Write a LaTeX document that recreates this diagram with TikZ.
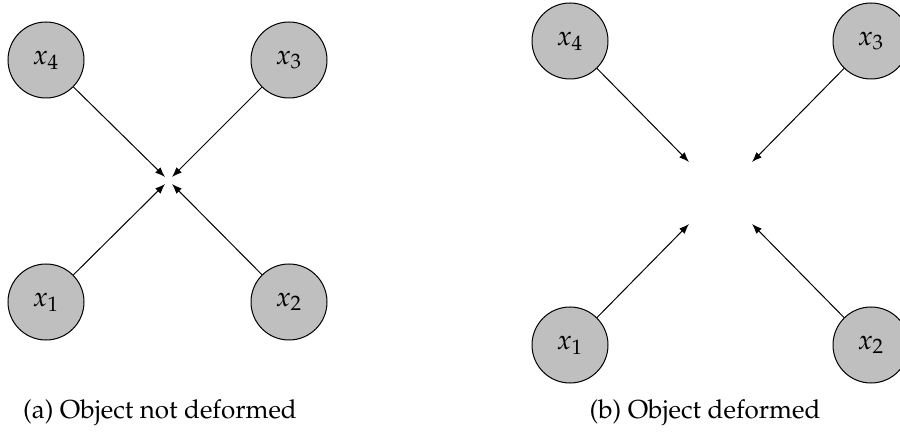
\documentclass[tikz,border=0pt]{standalone}
\usepackage[T1]{fontenc}
\usepackage{mathpazo}
\usetikzlibrary{arrows.meta}
\begin{document}
\begin{tikzpicture}[x=0.4pt,y=-0.4pt,
  pt/.style={circle,draw,fill=gray!50,line width=0.4pt,minimum size=30.4pt,inner sep=0pt,font=\fontsize{11}{13}\selectfont},
  pull/.style={-{Latex[length=4pt,width=3pt]},line width=0.4pt},
  captext/.style={font=\fontsize{10.4}{12.5}\selectfont,inner sep=0pt}]
\useasboundingbox (0,0) rectangle (900,432);
% undeformed object: all forces meet at one point
\node[pt] (a4) at (46,60)  {$x_4$};
\node[pt] (a3) at (289,60) {$x_3$};
\node[pt] (a1) at (46,302) {$x_1$};
\node[pt] (a2) at (289,302){$x_2$};
\coordinate (ta4) at (165,177);
\coordinate (ta3) at (172,177);
\coordinate (ta1) at (165,184);
\coordinate (ta2) at (172,184);
\draw[pull] (a4) -- (ta4);
\draw[pull] (a3) -- (ta3);
\draw[pull] (a1) -- (ta1);
\draw[pull] (a2) -- (ta2);
\node[captext] (capa) at (160,413) {(a) Object not deformed};
% deformed object: forces stop short of the centre
\node[pt] (b4) at (570,41)  {$x_4$};
\node[pt] (b3) at (871,41)  {$x_3$};
\node[pt] (b1) at (570,345) {$x_1$};
\node[pt] (b2) at (871,345) {$x_2$};
\coordinate (tb4) at (689,162);
\coordinate (tb3) at (752,162);
\coordinate (tb1) at (689,224);
\coordinate (tb2) at (752,224);
\draw[pull] (b4) -- (tb4);
\draw[pull] (b3) -- (tb3);
\draw[pull] (b1) -- (tb1);
\draw[pull] (b2) -- (tb2);
\node[captext] (capb) at (705,413) {(b) Object deformed};
\end{tikzpicture}
\end{document}
